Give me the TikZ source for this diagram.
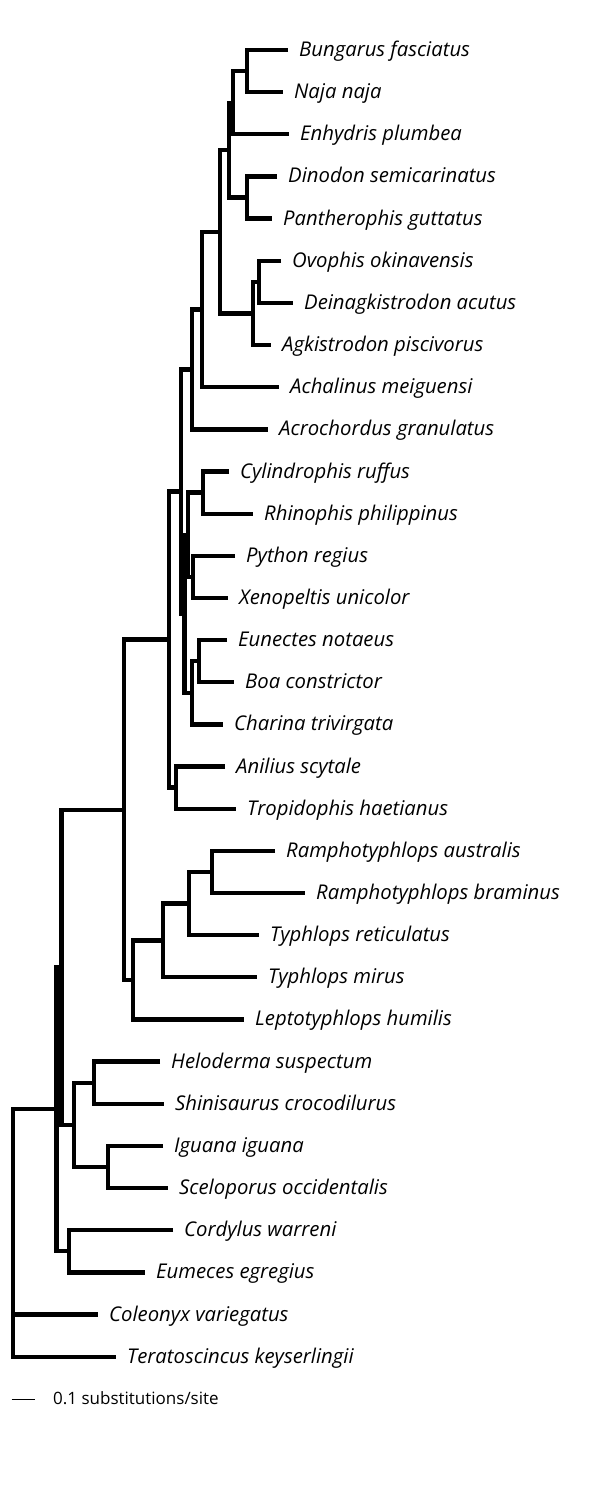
\documentclass[tikz,border=0pt]{standalone}
\usepackage{fontspec}
\setmainfont{Open Sans}
\begin{document}
\begin{tikzpicture}[x=1pt,y=-1pt,
  br/.style={line width=4.3pt, line join=miter, line cap=butt},
  lab/.style={anchor=base west, inner sep=0pt, font=\fontsize{20.3}{24}\selectfont\itshape},
  scl/.style={anchor=base west, inner sep=0pt, font=\fontsize{17}{20}\selectfont}]
\useasboundingbox (0,0) rectangle (600,1486);
% leaf tips
\coordinate (t0) at (288,50);
\coordinate (t1) at (283,92.15);
\coordinate (t2) at (289,134.3);
\coordinate (t3) at (277,176.45);
\coordinate (t4) at (272,218.6);
\coordinate (t5) at (281,260.75);
\coordinate (t6) at (293,302.9);
\coordinate (t7) at (271,345.05);
\coordinate (t8) at (279,387.2);
\coordinate (t9) at (268,429.35);
\coordinate (t10) at (229,471.5);
\coordinate (t11) at (253,513.65);
\coordinate (t12) at (235,555.8);
\coordinate (t13) at (228,597.95);
\coordinate (t14) at (227,640.1);
\coordinate (t15) at (234,682.25);
\coordinate (t16) at (223,724.4);
\coordinate (t17) at (225,766.55);
\coordinate (t18) at (236,808.7);
\coordinate (t19) at (275,850.85);
\coordinate (t20) at (305,893);
\coordinate (t21) at (259,935.15);
\coordinate (t22) at (257,977.3);
\coordinate (t23) at (244,1019.45);
\coordinate (t24) at (160,1061.6);
\coordinate (t25) at (164,1103.75);
\coordinate (t26) at (163,1145.9);
\coordinate (t27) at (168,1188.05);
\coordinate (t28) at (173,1230.2);
\coordinate (t29) at (145,1272.35);
\coordinate (t30) at (98,1314.5);
\coordinate (t31) at (116,1356.65);
% internal nodes
\coordinate (nBN) at (246.7,71.1);
\coordinate (nB2) at (233,102.7);
\coordinate (nDP) at (246.7,197.5);
\coordinate (nB1) at (229,150.1);
\coordinate (nOD) at (259,281.8);
\coordinate (nV) at (253,313.4);
\coordinate (nA) at (220,231.8);
\coordinate (nAch) at (201.7,309.5);
\coordinate (nAcr) at (191.7,369.4);
\coordinate (nCR) at (202.7,492.6);
\coordinate (nPX) at (193.3,576.9);
\coordinate (nCP) at (188.3,534.7);
\coordinate (nEB) at (199.3,661.2);
\coordinate (nBoid) at (191.7,692.8);
\coordinate (nN2) at (184.5,613.8);
\coordinate (nN1) at (181,491.6);
\coordinate (nAT) at (176,787.6);
\coordinate (nAle) at (169.3,639.6);
\coordinate (nRa) at (211.7,871.9);
\coordinate (nTr) at (189,903.5);
\coordinate (nTm) at (163.3,940.4);
\coordinate (nSco) at (132.7,979.9);
\coordinate (nSer) at (124,809.8);
\coordinate (nHS) at (94.3,1082.7);
\coordinate (nIS) at (108.3,1167);
\coordinate (nTox) at (74,1124.8);
\coordinate (nP) at (61.5,967.3);
\coordinate (nCE) at (69.3,1251.3);
\coordinate (nX) at (56.5,1109.3);
\coordinate (root) at (12.7,1109.3);
% branches
\draw[br] (t0) -| (nBN) |- (t1);
\draw[br] (nBN) -| (nB2) |- (t2);
\draw[br] (t3) -| (nDP) |- (t4);
\draw[br] (nB2) -| (nB1) |- (nDP);
\draw[br] (t5) -| (nOD) |- (t6);
\draw[br] (nOD) -| (nV) |- (t7);
\draw[br] (nB1) -| (nA) |- (nV);
\draw[br] (nA) -| (nAch) |- (t8);
\draw[br] (nAch) -| (nAcr) |- (t9);
\draw[br] (t10) -| (nCR) |- (t11);
\draw[br] (t12) -| (nPX) |- (t13);
\draw[br] (nCR) -| (nCP) |- (nPX);
\draw[br] (t14) -| (nEB) |- (t15);
\draw[br] (nEB) -| (nBoid) |- (t16);
\draw[br] (nCP) -| (nN2) |- (nBoid);
\draw[br] (nAcr) -| (nN1) |- (nN2);
\draw[br] (t17) -| (nAT) |- (t18);
\draw[br] (nN1) -| (nAle) |- (nAT);
\draw[br] (t19) -| (nRa) |- (t20);
\draw[br] (nRa) -| (nTr) |- (t21);
\draw[br] (nTr) -| (nTm) |- (t22);
\draw[br] (nTm) -| (nSco) |- (t23);
\draw[br] (nAle) -| (nSer) |- (nSco);
\draw[br] (t24) -| (nHS) |- (t25);
\draw[br] (t26) -| (nIS) |- (t27);
\draw[br] (nHS) -| (nTox) |- (nIS);
\draw[br] (nSer) -| (nP) |- (nTox);
\draw[br] (t28) -| (nCE) |- (t29);
\draw[br] (nP) -| (nX) |- (nCE);
\draw[br] (nX) -- (root) |- (t31);
\draw[br] (root |- t30) -- (t30);
% labels
\path (t0) ++(11,6.5) node[lab] (l0) {Bungarus fasciatus};
\path (t1) ++(11,6.5) node[lab] (l1) {Naja naja};
\path (t2) ++(11,6.5) node[lab] (l2) {Enhydris plumbea};
\path (t3) ++(11,6.5) node[lab] (l3) {Dinodon semicarinatus};
\path (t4) ++(11,6.5) node[lab] (l4) {Pantherophis guttatus};
\path (t5) ++(11,6.5) node[lab] (l5) {Ovophis okinavensis};
\path (t6) ++(11,6.5) node[lab] (l6) {Deinagkistrodon acutus};
\path (t7) ++(11,6.5) node[lab] (l7) {Agkistrodon piscivorus};
\path (t8) ++(11,6.5) node[lab] (l8) {Achalinus meiguensi};
\path (t9) ++(11,6.5) node[lab] (l9) {Acrochordus granulatus};
\path (t10) ++(11,6.5) node[lab] (l10) {Cylindrophis ruffus};
\path (t11) ++(11,6.5) node[lab] (l11) {Rhinophis philippinus};
\path (t12) ++(11,6.5) node[lab] (l12) {Python regius};
\path (t13) ++(11,6.5) node[lab] (l13) {Xenopeltis unicolor};
\path (t14) ++(11,6.5) node[lab] (l14) {Eunectes notaeus};
\path (t15) ++(11,6.5) node[lab] (l15) {Boa constrictor};
\path (t16) ++(11,6.5) node[lab] (l16) {Charina trivirgata};
\path (t17) ++(11,6.5) node[lab] (l17) {Anilius scytale};
\path (t18) ++(11,6.5) node[lab] (l18) {Tropidophis haetianus};
\path (t19) ++(11,6.5) node[lab] (l19) {Ramphotyphlops australis};
\path (t20) ++(11,6.5) node[lab] (l20) {Ramphotyphlops braminus};
\path (t21) ++(11,6.5) node[lab] (l21) {Typhlops reticulatus};
\path (t22) ++(11,6.5) node[lab] (l22) {Typhlops mirus};
\path (t23) ++(11,6.5) node[lab] (l23) {Leptotyphlops humilis};
\path (t24) ++(11,6.5) node[lab] (l24) {Heloderma suspectum};
\path (t25) ++(11,6.5) node[lab] (l25) {Shinisaurus crocodilurus};
\path (t26) ++(11,6.5) node[lab] (l26) {Iguana iguana};
\path (t27) ++(11,6.5) node[lab] (l27) {Sceloporus occidentalis};
\path (t28) ++(11,6.5) node[lab] (l28) {Cordylus warreni};
\path (t29) ++(11,6.5) node[lab] (l29) {Eumeces egregius};
\path (t30) ++(11,6.5) node[lab] (l30) {Coleonyx variegatus};
\path (t31) ++(11,6.5) node[lab] (l31) {Teratoscincus keyserlingii};
% scale bar
\coordinate (sb0) at (11.7,1399.3);
\coordinate (sb1) at (35,1399.3);
\draw[line width=1.3pt] (sb0) -- (sb1);
\path (sb1) ++(18,5.5) node[scl] (sbl) {0.1 substitutions/site};
\end{tikzpicture}
\end{document}
